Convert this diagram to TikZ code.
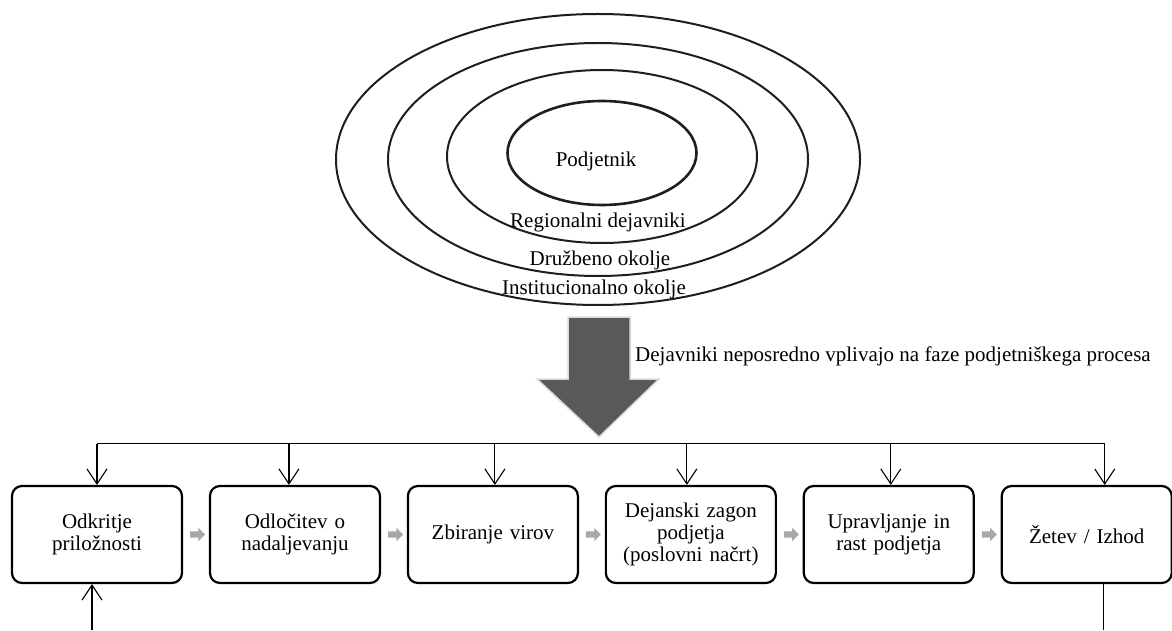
\documentclass[tikz,border=0pt]{standalone}
\usepackage{fontspec}
\setmainfont{Liberation Serif}
\usepackage{tikz}
\usetikzlibrary{shapes,arrows,arrows.meta,positioning}
\definecolor{arrowgray}{RGB}{89, 89, 89}
\definecolor{glowgray}{RGB}{218, 218, 218}
\definecolor{flowgray}{RGB}{168, 168, 168}
\definecolor{ringblack}{RGB}{30, 30, 30}
\tikzstyle{phase} = [rectangle, rounded corners=10pt, draw=black, line width=2.2pt, fill=none, text=black, align=center, text width=160pt, minimum width=170pt, minimum height=97pt, font=\fontsize{21}{22}\selectfont]
\tikzstyle{ring} = [ellipse, draw=ringblack, line width=2pt, fill=none, inner sep=0pt]
\tikzstyle{lbl} = [inner sep=0pt, text=black, font=\fontsize{21}{22}\selectfont]
\tikzstyle{flow} = [single arrow, fill=flowgray, draw=none, inner sep=3pt, minimum height=15pt, single arrow head extend=3.5pt]
\tikzstyle{tedge} = [draw, line width=1.1pt, -{Straight Barb[length=15pt,width=20pt]}]

\begin{document}
\begin{tikzpicture}[x=1pt, y=1pt]
\useasboundingbox (0,0) rectangle (1172,630);

% environment rings =============================

\node[ring, minimum width=524pt, minimum height=291pt] (inst) at (598,470.5) {};
\node[ring, minimum width=420pt, minimum height=233pt] (druz) at (598,470.5) {};
\node[ring, minimum width=310pt, minimum height=173pt] (reg) at (602,473.5) {};
\node[ring, line width=2.6pt, minimum width=189pt, minimum height=104pt] (pod) at (602,477) {};

% ring labels
\node[lbl, anchor=base] (podlbl) at ([xshift=-6pt, yshift=-14pt]pod.center) {Podjetnik};
\node[lbl, anchor=base] (reglbl) at ([xshift=-4pt, yshift=16pt]reg.south) {Regionalni dejavniki};
\node[lbl, anchor=base] (druzlbl) at ([xshift=2pt, yshift=11pt]druz.south) {Družbeno okolje};
\node[lbl, anchor=base] (instlbl) at ([xshift=-4pt, yshift=11pt]inst.south) {Institucionalno okolje};

% influence arrow
\filldraw[fill=arrowgray, draw=glowgray, line width=1.5pt]
  (568,313) -- (630,313) -- (630,251) -- (659,251) -- (599,193) coordinate (tip)
  -- (537,251) -- (568,251) -- cycle;
\node[lbl, anchor=base west] (note) at (635,269) {Dejavniki neposredno vplivajo na faze podjetniškega procesa};

% process phases =============================

\node[phase] (b1) at (97,95.5) {Odkritje\\priložnosti};
\node[phase, right=25.75pt of b1] (b2) {Odločitev o\\nadaljevanju};
\node[phase, right=25.75pt of b2] (b3) {Zbiranje virov};
\node[phase, right=25.75pt of b3] (b4) {Dejanski zagon\\podjetja\\(poslovni načrt)};
\node[phase, right=25.75pt of b4] (b5) {Upravljanje in\\rast podjetja};
\node[phase, right=25.75pt of b5] (b6) {Žetev / Izhod};

% flow between phases
\path (b1) -- node[flow] {} (b2);
\path (b2) -- node[flow] {} (b3);
\path (b3) -- node[flow] {} (b4);
\path (b4) -- node[flow] {} (b5);
\path (b5) -- node[flow] {} (b6);

% edges bus to phases
\coordinate (busL) at ([yshift=41pt]b1.north);
\coordinate (busR) at ([xshift=18pt, yshift=41pt]b6.north);
\draw[line width=1.1pt] (busL) -- (busR);

\foreach \b/\dx in {b1/0, b2/-6, b3/2, b4/-4, b5/2, b6/18}
  \path[tedge] ([xshift=\dx pt]\b.north |- busL) -- ([xshift=\dx pt]\b.north);

% loose ends
\coordinate (inL) at ([xshift=-5pt]b1.south |- 0,0);
\coordinate (outR) at ([xshift=17pt]b6.south |- 0,0);
\path[tedge] (inL) -- (inL |- b1.south);
\draw[line width=1.1pt] ([xshift=17pt]b6.south) -- (outR);

\end{tikzpicture}
\end{document}
